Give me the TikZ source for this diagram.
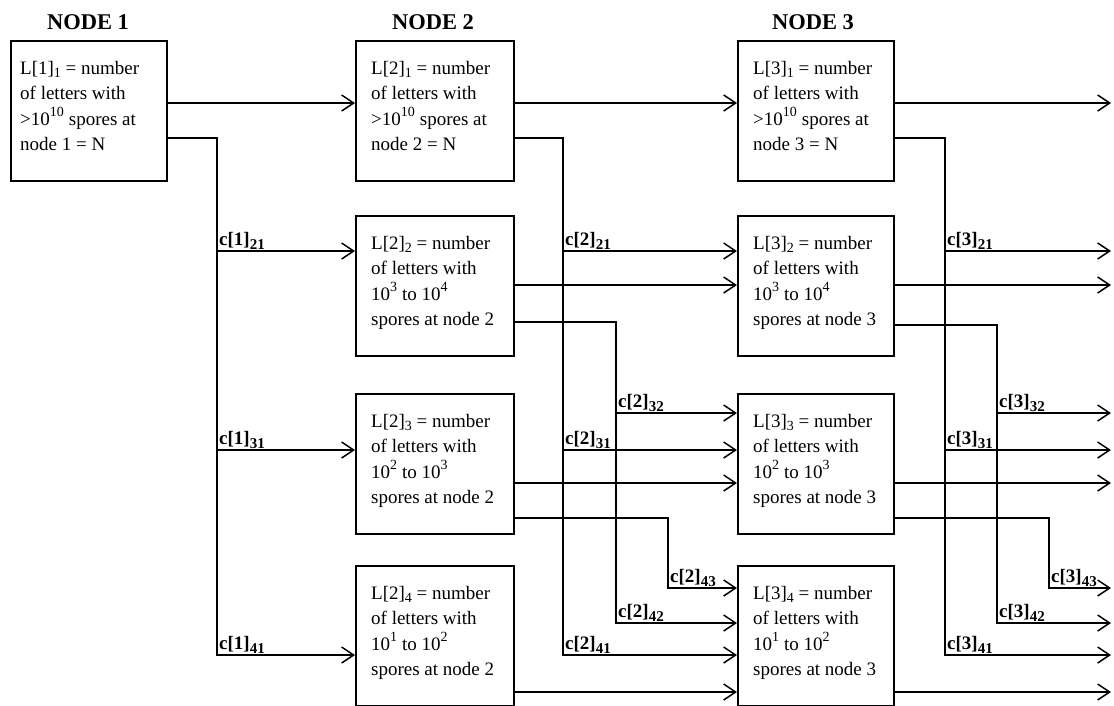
\documentclass[tikz,border=0pt]{standalone}
\usepackage{fontspec}
\setmainfont{Liberation Serif}
\usetikzlibrary{arrows.meta}
\newcommand\bxfont{\fontsize{19}{25.5}\selectfont}
\newcommand\hdfont{\fontsize{22.5}{27}\selectfont\bfseries}
\newcommand\lbfont{\fontsize{19}{22}\selectfont\bfseries}
\newcommand\mysup[1]{\raisebox{8.5pt}{\fontsize{14}{14}\selectfont #1}\hspace{5pt}}
\newcommand\mysub[1]{\raisebox{-3.5pt}{\fontsize{14}{14}\selectfont #1}}
\newcommand\lbsub[1]{\raisebox{-4pt}{\fontsize{15}{15}\selectfont\bfseries #1}}
\begin{document}
\begin{tikzpicture}[x=1pt,y=-1pt,
  ln/.style={line width=1.5pt},
  arr/.style={line width=1.5pt,-{Straight Barb[length=12pt,width=16pt]}},
  box/.style={draw,line width=1.5pt,rectangle,anchor=north west,minimum height=140pt,inner sep=0pt},
  txt/.style={anchor=north west,align=left,inner sep=0pt,font=\bxfont},
  hd/.style={anchor=base,inner sep=0pt,font=\hdfont},
  lbl/.style={anchor=base west,inner sep=0pt,xshift=2pt,yshift=6pt,font=\lbfont}]
\useasboundingbox (0,0) rectangle (1114,705);

% headers
\node[hd] (h1) at (88,29) {NODE 1};
\node[hd] (h2) at (433,29) {NODE 2};
\node[hd] (h3) at (813,29) {NODE 3};

% boxes
\node[box,minimum width=156pt] (b1) at (10,40) {};
\node[box,minimum width=158pt] (b21) at (355,40) {};
\node[box,minimum width=158pt] (b22) at (355,215) {};
\node[box,minimum width=158pt] (b23) at (355,393) {};
\node[box,minimum width=158pt] (b24) at (355,565) {};
\node[box,minimum width=156pt] (b31) at (737,40) {};
\node[box,minimum width=156pt] (b32) at (737,215) {};
\node[box,minimum width=156pt] (b33) at (737,393) {};
\node[box,minimum width=156pt] (b34) at (737,565) {};

% box texts
\node[txt] (t1) at ([shift={(10,21)}]b1.north west) {L[1]\mysub{1} = number\\of letters with\\>10\mysup{10}spores at\\node 1 = N};
\node[txt] (t21) at ([shift={(16,21)}]b21.north west) {L[2]\mysub{1} = number\\of letters with\\>10\mysup{10}spores at\\node 2 = N};
\node[txt] (t22) at ([shift={(16,21)}]b22.north west) {L[2]\mysub{2} = number\\of letters with\\10\mysup{3}to 10\mysup{4}\\spores at node 2};
\node[txt] (t23) at ([shift={(16,21)}]b23.north west) {L[2]\mysub{3} = number\\of letters with\\10\mysup{2}to 10\mysup{3}\\spores at node 2};
\node[txt] (t24) at ([shift={(16,21)}]b24.north west) {L[2]\mysub{4} = number\\of letters with\\10\mysup{1}to 10\mysup{2}\\spores at node 2};
\node[txt] (t31) at ([shift={(16,21)}]b31.north west) {L[3]\mysub{1} = number\\of letters with\\>10\mysup{10}spores at\\node 3 = N};
\node[txt] (t32) at ([shift={(16,21)}]b32.north west) {L[3]\mysub{2} = number\\of letters with\\10\mysup{3}to 10\mysup{4}\\spores at node 3};
\node[txt] (t33) at ([shift={(16,21)}]b33.north west) {L[3]\mysub{3} = number\\of letters with\\10\mysup{2}to 10\mysup{3}\\spores at node 3};
\node[txt] (t34) at ([shift={(16,21)}]b34.north west) {L[3]\mysub{4} = number\\of letters with\\10\mysup{1}to 10\mysup{2}\\spores at node 3};

% bus columns
\coordinate (v1) at (217,0);
\coordinate (v21) at (563,0);
\coordinate (v22) at (616,0);
\coordinate (v23) at (668,0);
\coordinate (v31) at (945,0);
\coordinate (v32) at (997,0);
\coordinate (v33) at (1049,0);
\coordinate (out) at (1111,0);

% ---- node 1 -> node 2
\draw[arr] (b1.east |- 0,103) -- (b21.west |- 0,103);
\draw[arr] (b1.east |- 0,138) -| (v1 |- 0,655) -- (b24.west |- 0,655);
\draw[arr] (v1 |- 0,251) -- (b22.west |- 0,251);
\draw[arr] (v1 |- 0,450) -- (b23.west |- 0,450);
\node[lbl] (c121) at (v1 |- 0,251) {c[1]\lbsub{21}};
\node[lbl] (c131) at (v1 |- 0,450) {c[1]\lbsub{31}};
\node[lbl] (c141) at (v1 |- 0,655) {c[1]\lbsub{41}};

% ---- node 2 -> node 3
\draw[arr] (b21.east |- 0,103) -- (b31.west |- 0,103);
\draw[arr] (b21.east |- 0,138) -| (v21 |- 0,655) -- (b34.west |- 0,655);
\draw[arr] (v21 |- 0,251) -- (b32.west |- 0,251);
\draw[arr] (v21 |- 0,450) -- (b33.west |- 0,450);
\draw[arr] (b22.east |- 0,285) -- (b32.west |- 0,285);
\draw[arr] (b22.east |- 0,322) -| (v22 |- 0,623) -- (b34.west |- 0,623);
\draw[arr] (v22 |- 0,413) -- (b33.west |- 0,413);
\draw[arr] (b23.east |- 0,483) -- (b33.west |- 0,483);
\draw[arr] (b23.east |- 0,518) -| (v23 |- 0,588) -- (b34.west |- 0,588);
\draw[arr] (b24.east |- 0,692) -- (b34.west |- 0,692);
\node[lbl] (c221) at (v21 |- 0,251) {c[2]\lbsub{21}};
\node[lbl] (c231) at (v21 |- 0,450) {c[2]\lbsub{31}};
\node[lbl] (c241) at (v21 |- 0,655) {c[2]\lbsub{41}};
\node[lbl] (c232) at (v22 |- 0,413) {c[2]\lbsub{32}};
\node[lbl] (c242) at (v22 |- 0,623) {c[2]\lbsub{42}};
\node[lbl] (c243) at (v23 |- 0,588) {c[2]\lbsub{43}};

% ---- node 3 -> onward
\draw[arr] (b31.east |- 0,103) -- (out |- 0,103);
\draw[arr] (b31.east |- 0,138) -| (v31 |- 0,655) -- (out |- 0,655);
\draw[arr] (v31 |- 0,251) -- (out |- 0,251);
\draw[arr] (v31 |- 0,450) -- (out |- 0,450);
\draw[arr] (b32.east |- 0,285) -- (out |- 0,285);
\draw[arr] (b32.east |- 0,325) -| (v32 |- 0,623) -- (out |- 0,623);
\draw[arr] (v32 |- 0,413) -- (out |- 0,413);
\draw[arr] (b33.east |- 0,483) -- (out |- 0,483);
\draw[arr] (b33.east |- 0,518) -| (v33 |- 0,588) -- (out |- 0,588);
\draw[arr] (b34.east |- 0,692) -- (out |- 0,692);
\node[lbl] (c321) at (v31 |- 0,251) {c[3]\lbsub{21}};
\node[lbl] (c331) at (v31 |- 0,450) {c[3]\lbsub{31}};
\node[lbl] (c341) at (v31 |- 0,655) {c[3]\lbsub{41}};
\node[lbl] (c332) at (v32 |- 0,413) {c[3]\lbsub{32}};
\node[lbl] (c342) at (v32 |- 0,623) {c[3]\lbsub{42}};
\node[lbl] (c343) at (v33 |- 0,588) {c[3]\lbsub{43}};
\end{tikzpicture}
\end{document}
